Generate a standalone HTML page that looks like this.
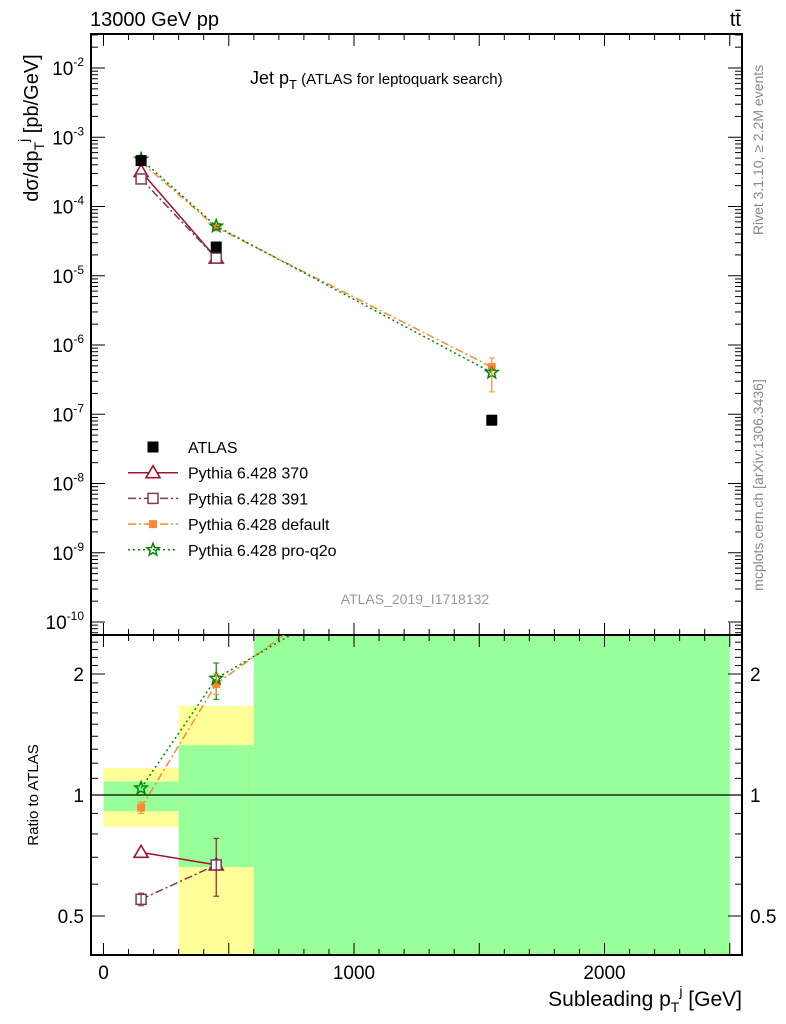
<!DOCTYPE html>
<html><head><meta charset="utf-8"><style>
body{margin:0;background:#fff}
svg{display:block;font-family:"Liberation Sans",sans-serif}
</style></head><body>
<svg id="c" width="786" height="1024" viewBox="0 0 786 1024" xmlns="http://www.w3.org/2000/svg">
<defs>
<clipPath id="clipMain"><rect x="91" y="34" width="651" height="601"/></clipPath>
<clipPath id="clipRatio"><rect x="91" y="635" width="651" height="320"/></clipPath>
</defs>
<g id="bands" clip-path="url(#clipRatio)"></g>
<g id="axes"></g>
<g id="series"></g>
<text x="90" y="26" font-size="20">13000 GeV pp</text>
<text x="741" y="26" font-size="20" text-anchor="end">tt̄</text>
<text x="250" y="84" font-size="18">Jet p<tspan font-size="13" dy="5">T</tspan><tspan font-size="15" dy="-5"> (ATLAS for leptoquark search)</tspan></text>
<text x="415" y="604" font-size="14" fill="#999" text-anchor="middle">ATLAS_2019_I1718132</text>
<text transform="translate(763,150) rotate(-90)" font-size="14" fill="#888" text-anchor="middle">Rivet 3.1.10, ≥ 2.2M events</text>
<text transform="translate(763,485) rotate(-90)" font-size="14" fill="#888" text-anchor="middle">mcplots.cern.ch [arXiv:1306.3436]</text>
<text transform="translate(38,128) rotate(-90)" font-size="20" text-anchor="middle">dσ/dp<tspan font-size="14" dy="6">T</tspan><tspan font-size="14" dy="-16">j</tspan><tspan font-size="20" dy="10"> [pb/GeV]</tspan></text>
<text transform="translate(38,795) rotate(-90)" font-size="15" text-anchor="middle">Ratio to ATLAS</text>
<text x="742" y="1006" font-size="21" text-anchor="end">Subleading p<tspan font-size="14" dy="6">T</tspan><tspan font-size="14" dy="-16">j</tspan><tspan font-size="21" dy="10"> [GeV]</tspan></text>
<g id="legend"></g>
</svg>
<script>
const xCenters=[150,450,1550];
const xErrLo=[0,300,600], xErrHi=[300,600,2500];
const atlas=[4.6e-4,2.6e-5,8.2e-8];
const p370=[3.2e-4,1.8e-5,null];
const p391=[2.5e-4,1.8e-5,null];
const pDef=[4.4e-4,5.0e-5,4.8e-7];
const pQ2o=[4.8e-4,5.2e-5,4.0e-7];
const r370=[0.72,0.67];
const r391=[0.55,0.67];
const rDef=[0.93,1.89,5.9];
const rQ2o=[1.04,1.95,4.9];
const bandYellowLo=[0.833,0.30,0.30], bandYellowHi=[1.167,1.665,3];
const bandGreenLo=[0.912,0.662,0.30], bandGreenHi=[1.08,1.33,3];
const xTicks=[0,1000,2000];
const yDecades=[-2,-3,-4,-5,-6,-7,-8,-9,-10];
const rTicks=[0.5,1,2];

const NS="http://www.w3.org/2000/svg";
const X=v=>103.5+v*0.2505;
const Y=v=>68+(-2-Math.log10(v))*69.25;
const R=v=>795-Math.log2(v)*121;
function el(tag,attrs,parent){const e=document.createElementNS(NS,tag);for(const k in attrs)e.setAttribute(k,attrs[k]);parent.appendChild(e);return e;}
const axes=document.getElementById('axes'),bands=document.getElementById('bands'),ser=document.getElementById('series'),leg=document.getElementById('legend');

for(let i=0;i<3;i++){
  const y=el('rect',{x:X(xErrLo[i]),y:R(bandYellowHi[i]),width:X(xErrHi[i])-X(xErrLo[i]),height:R(bandYellowLo[i])-R(bandYellowHi[i]),fill:'#ffff99'},bands);
  
  
  const g=el('rect',{x:X(xErrLo[i]),y:R(bandGreenHi[i]),width:X(xErrHi[i])-X(xErrLo[i]),height:R(bandGreenLo[i])-R(bandGreenHi[i]),fill:'#99ff99'},bands);
  
  
}
el('line',{x1:91,x2:742,y1:R(1),y2:R(1),stroke:'#000','stroke-width':1.2},axes);

el('rect',{x:91,y:34,width:651,height:601,fill:'none',stroke:'#000','stroke-width':2},axes);
el('rect',{x:91,y:635,width:651,height:320,fill:'none',stroke:'#000','stroke-width':2},axes);

for(let v=0;v<=2500;v+=100){
  const big=v%500===0, L=big?12:6;
  [[34,1],[635,-1],[635,1],[955,-1]].forEach(([y0,d])=>el('line',{x1:X(v),x2:X(v),y1:y0,y2:y0+d*L,stroke:'#000'},axes));
}
xTicks.forEach(v=>{
  const t=el('text',{x:X(v),y:979,'font-size':19,'text-anchor':'middle'},axes);
  t.textContent=v;
  
  
});
for(let d=-11;d<=-1;d++){
  for(let m=1;m<10;m++){
    const v=m*Math.pow(10,d),y=Y(v);
    if(y<34||y>635)continue;
    const L=m===1?14:7;
    el('line',{x1:91,x2:91+L,y1:y,y2:y,stroke:'#000'},axes);
    el('line',{x1:742,x2:742-L,y1:y,y2:y,stroke:'#000'},axes);
  }
}
yDecades.forEach(d=>{
  const t=el('text',{x:84,y:Y(Math.pow(10,d))+7,'font-size':19,'text-anchor':'end'},axes);
  t.innerHTML='10<tspan font-size="12" dy="-9">'+d+'</tspan>';
  
  
});
for(let v=0.4;v<=2.5;v+=0.1){
  const vv=Math.round(v*10)/10,y=R(vv);
  if(y<635||y>955)continue;
  const big=rTicks.includes(vv),L=big?14:7;
  el('line',{x1:91,x2:91+L,y1:y,y2:y,stroke:'#000'},axes);
  el('line',{x1:742,x2:742-L,y1:y,y2:y,stroke:'#000'},axes);
}
rTicks.forEach(v=>{
  [[84,'end','ratio-tick-left'],[750,'start','ratio-tick-right']].forEach(([x,a,n])=>{
    const t=el('text',{x:x,y:R(v)+7,'font-size':19,'text-anchor':a},axes);
    t.textContent=v;
    
    
  });
});

function marker(kind,x,y,col,g){
  if(kind==='sq') el('rect',{x:x-5.5,y:y-5.5,width:11,height:11,fill:'#000'},g);
  if(kind==='tri') el('path',{d:`M${x},${y-7}L${x+7},${y+5}L${x-7},${y+5}Z`,fill:'#fff',stroke:col,'stroke-width':1.6},g);
  if(kind==='osq') el('rect',{x:x-5,y:y-5,width:10,height:10,fill:'#fff',stroke:col,'stroke-width':1.5},g);
  if(kind==='fsq') el('rect',{x:x-4,y:y-4,width:8,height:8,fill:col},g);
  if(kind==='star'){let p='';for(let i=0;i<10;i++){const r=i%2?2.8:6.5,a=-Math.PI/2+i*Math.PI/5;p+=(i?'L':'M')+(x+r*Math.cos(a)).toFixed(1)+','+(y+r*Math.sin(a)).toFixed(1);}el('path',{d:p+'Z',fill:'none',stroke:col,'stroke-width':1.5},g);}
}
const styles=[
 {name:'Pythia 6.428 370',k:'tri',col:'#a0142d',dash:'',main:p370,ratio:r370},
 {name:'Pythia 6.428 391',k:'osq',col:'#7a3b5a',dash:'8,3,2,3',main:p391,ratio:r391},
 {name:'Pythia 6.428 default',k:'fsq',col:'#ff8833',dash:'8,3,2,3',main:pDef,ratio:rDef},
 {name:'Pythia 6.428 pro-q2o',k:'star',col:'#008800',dash:'2,3',main:pQ2o,ratio:rQ2o}
];
styles.forEach((s,si)=>{
  const g=el('g',{},ser);
  
  
  const gm=el('g',{'clip-path':'url(#clipMain)'},g);
  const pts=s.main.map((v,i)=>v==null?null:[X(xCenters[i]),Y(v)]).filter(p=>p);
  el('polyline',{points:pts.map(p=>p.join(',')).join(' '),fill:'none',stroke:s.col,'stroke-width':1.5,'stroke-dasharray':s.dash},gm);
  pts.forEach(p=>marker(s.k,p[0],p[1],s.col,gm));
  const gr=el('g',{'clip-path':'url(#clipRatio)'},g);
  const rp=s.ratio.map((v,i)=>[X(xCenters[i]),R(v)]);
  el('polyline',{points:rp.map(p=>p.join(',')).join(' '),fill:'none',stroke:s.col,'stroke-width':1.5,'stroke-dasharray':s.dash},gr);
  rp.forEach(p=>marker(s.k,p[0],p[1],s.col,gr));
});
[[X(450),R(0.56),R(0.78),'#a0142d'],[X(450),R(1.73),R(2.13),'#008800'],[X(450),R(1.78),R(2.0),'#ff8833'],[X(150),R(0.53),R(0.57),'#7a3b5a'],[X(150),R(0.90),R(0.96),'#ff8833'],[X(1550),Y(2.1e-7),Y(6.5e-7),'#ff8833']].forEach(([x,a,b,c])=>{
  el('line',{x1:x,x2:x,y1:a,y2:b,stroke:c,'stroke-width':1.2},ser);
  el('line',{x1:x-3,x2:x+3,y1:a,y2:a,stroke:c},ser);
  el('line',{x1:x-3,x2:x+3,y1:b,y2:b,stroke:c},ser);
});
const ga=el('g',{},ser);


atlas.forEach((v,i)=>marker('sq',X(xCenters[i]),Y(v),'#000',ga));

const rows=[{name:'ATLAS',k:'sq',col:'#000',dash:null}].concat(styles);
rows.forEach((s,i)=>{
  const y=447+i*25.7;
  const g=el('g',{},leg);
  
  
  if(s.dash!==null) el('line',{x1:128,x2:178,y1:y,y2:y,stroke:s.col,'stroke-width':1.5,'stroke-dasharray':s.dash},g);
  marker(s.k,153,y,s.col,g);
  const t=el('text',{x:188,y:y+6,'font-size':16},g);
  t.textContent=s.name;
});
</script>
</body></html>
